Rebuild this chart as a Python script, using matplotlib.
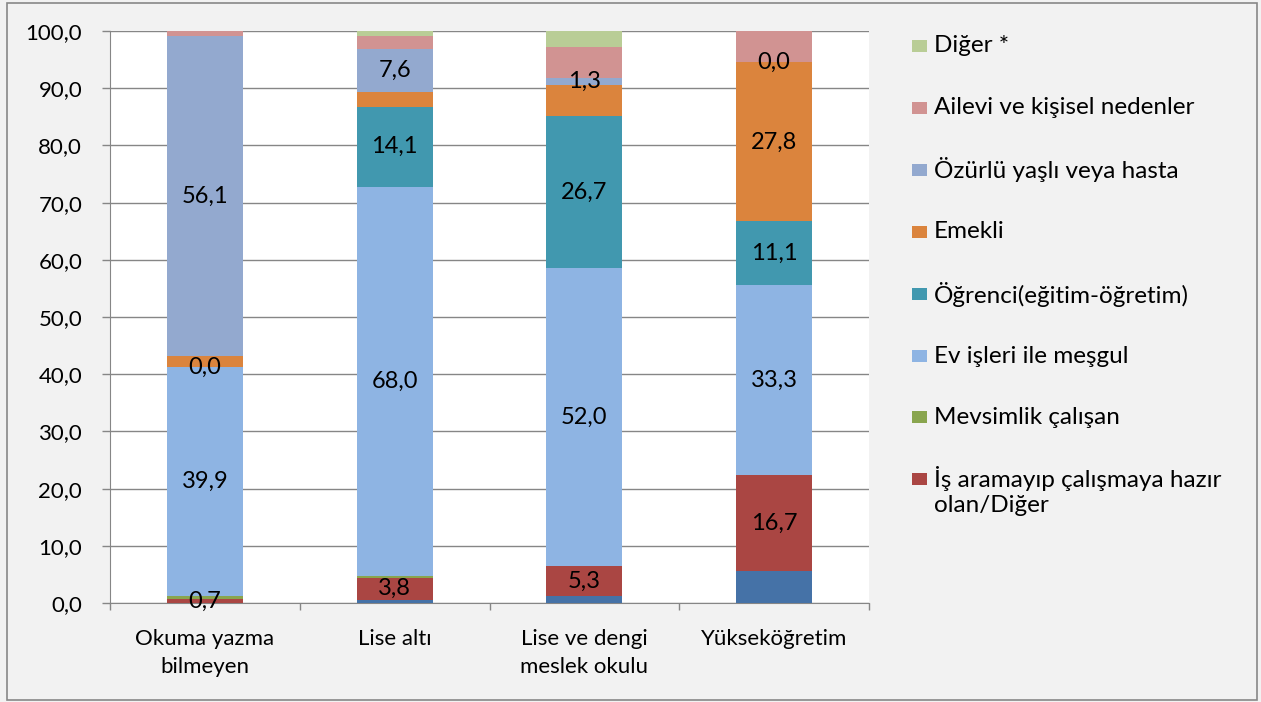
import matplotlib
matplotlib.use("Agg")
import matplotlib.pyplot as plt
from matplotlib.patches import Rectangle
import numpy as np

plt.rcParams['font.family'] = ['Lato', 'DejaVu Sans']

categories = ["Okuma yazma\nbilmeyen", "Lise altı", "Lise ve dengi\nmeslek okulu", "Yükseköğretim"]

# series, bottom to top
gizli_seri = [0.0, 0.6, 1.2, 5.6]
is_aramayip = [0.7, 3.8, 5.3, 16.7]
mevsimlik = [0.6, 0.3, 0.0, 0.0]
ev_isleri = [39.9, 68.0, 52.0, 33.3]
ogrenci = [0.0, 14.1, 26.7, 11.1]
emekli = [1.9, 2.5, 5.3, 27.8]
ozurlu = [56.1, 7.6, 1.3, 0.0]
ailevi = [0.8, 2.2, 5.4, 5.5]
diger = [0.0, 0.9, 2.8, 0.0]

series_names = ["", "İş aramayıp çalışmaya hazır\nolan/Diğer", "Mevsimlik çalışan",
                "Ev işleri ile meşgul", "Öğrenci(eğitim-öğretim)", "Emekli",
                "Özürlü yaşlı veya hasta", "Ailevi ve kişisel nedenler", "Diğer *"]
series_values = [gizli_seri, is_aramayip, mevsimlik, ev_isleri, ogrenci, emekli,
                 ozurlu, ailevi, diger]
colors = ["#4572A7", "#AA4643", "#89A54E", "#8EB4E3", "#4198AF", "#DB843D",
          "#93A9CF", "#D19392", "#B9CD96"]
# which series/bar carry data labels
label_mask = [
    [False, False, False, False],
    [True, True, True, True],
    [False, False, False, False],
    [True, True, True, True],
    [True, True, True, True],
    [False, False, False, True],
    [True, True, True, True],
    [False, False, False, False],
    [False, False, False, False],
]

W, H = 1261, 702
fig = plt.figure(figsize=(W / 100, H / 100), dpi=100)
fig.patch.set_facecolor("#F2F2F2")
fig.patches.append(Rectangle((7 / W, 2 / H), (1257 - 7) / W, (699 - 2) / H,
                             transform=fig.transFigure, fill=False,
                             edgecolor="#888888", linewidth=1.2))

ax = fig.add_axes([110 / W, 1 - 603 / H, (869 - 110) / W, (603 - 31) / H])
ax.set_facecolor("white")

x = np.arange(len(categories))
bottom = np.zeros(len(categories))
for vals, col, mask in zip(series_values, colors, label_mask):
    v = np.array(vals)
    ax.bar(x, v, width=0.4, bottom=bottom, color=col, zorder=3)
    for i in range(len(v)):
        if mask[i]:
            ax.text(x[i], bottom[i] + v[i] / 2, f"{v[i]:.1f}".replace(".", ","),
                    ha="center", va="center", fontsize=17, color="black", zorder=4)
    bottom += v

ax.set_xlim(-0.5, len(categories) - 0.5)
ax.set_ylim(0, 100)
yt = np.arange(0, 101, 10)
ax.set_yticks(yt)
ax.set_yticklabels([f"{t:.1f}".replace(".", ",") for t in yt], fontsize=16)
ax.set_xticks(x)
ax.set_xticklabels(categories, fontsize=16, linespacing=1.45)
ax.tick_params(axis="x", length=0, pad=19)
ax.tick_params(axis="y", length=6, color="#868686", width=1, pad=14)
ax.set_xticks(np.arange(-0.5, len(categories), 1), minor=True)
ax.tick_params(axis="x", which="minor", length=5, color="#868686", width=1)
ax.grid(axis="y", color="#868686", linewidth=1, zorder=0)
for s in ["top", "right"]:
    ax.spines[s].set_visible(False)
ax.spines["left"].set_color("#868686")
ax.spines["bottom"].set_color("#868686")

# legend (top to bottom: reversed series order, hidden series omitted)
leg_y = [46, 108, 170, 232, 294, 356, 417, 479]
entries = [(n, c) for n, c in zip(series_names, colors) if n][::-1]
for (name, col), yy in zip(entries, leg_y):
    fig.patches.append(Rectangle((912 / W, 1 - (yy + 6) / H), 15 / W, 12 / H,
                                 transform=fig.transFigure, facecolor=col,
                                 edgecolor="none"))
    if "\n" in name:
        fig.text(934 / W, 1 - (yy - 13) / H, name, fontsize=17.5, va="top",
                 ha="left", linespacing=1.25)
    else:
        fig.text(934 / W, 1 - yy / H, name, fontsize=17.5, va="center", ha="left")

fig.savefig("out.png", dpi=100, facecolor=fig.get_facecolor())
